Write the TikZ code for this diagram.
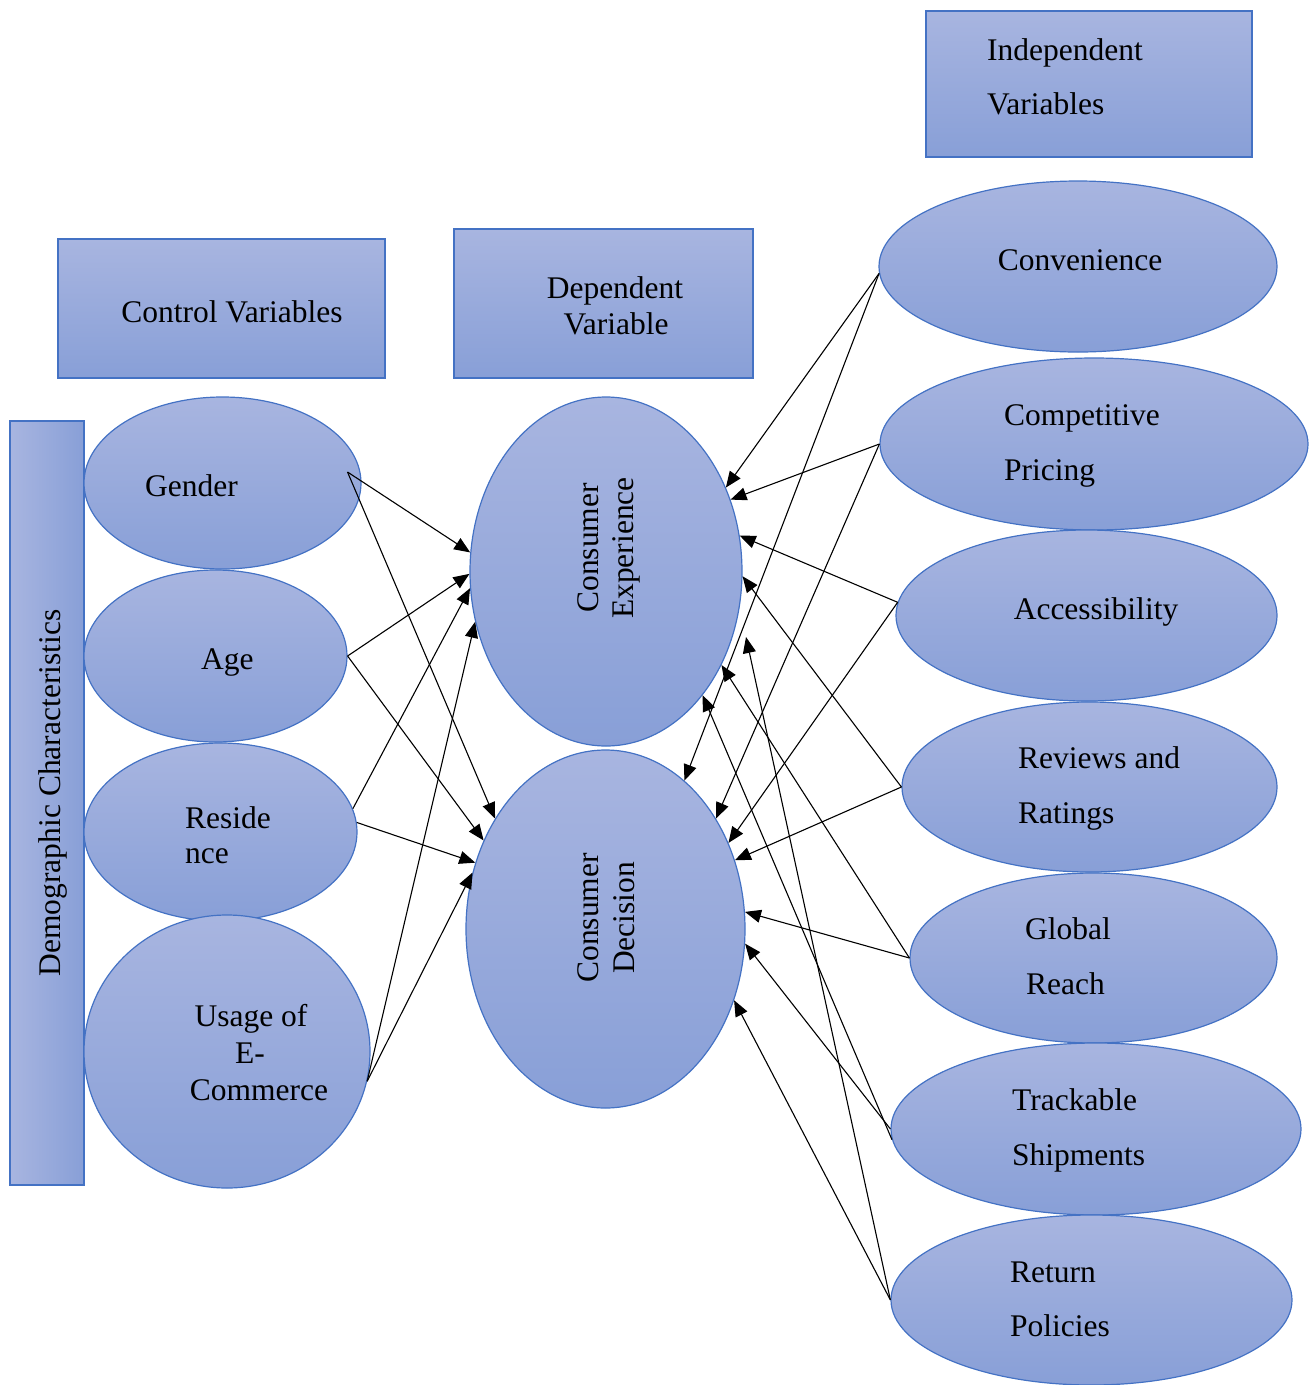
\documentclass[tikz,border=0pt]{standalone}
\usepackage{fontspec}
\setmainfont{Liberation Serif}
\usetikzlibrary{shapes.geometric,arrows.meta,calc}
\definecolor{gtop}{HTML}{A8B5E0}
\definecolor{gbot}{HTML}{889FD7}
\definecolor{bord}{HTML}{4472C4}
\begin{document}
\begin{tikzpicture}[x=1pt,y=-1pt,
 shp/.style={draw=bord,line width=1.2pt,inner sep=0pt},
 vgrad/.style={top color=gtop,bottom color=gbot},
 ell/.style={shp,vgrad,ellipse},
 box/.style={shp,vgrad,rectangle},
 lbl/.style={font=\fontsize{31.5}{36}\selectfont,inner sep=0pt},
 con/.style={line width=1.1pt,-{Triangle[length=16pt,width=13pt]}}]
\useasboundingbox (0,0) rectangle (1316,1385);

% boxes
\node[box,minimum width=326pt,minimum height=146pt] (indep) at (1089,84) {};
\node[box,minimum width=327pt,minimum height=139pt] (control) at (221.5,308.5) {};
\node[box,minimum width=299pt,minimum height=149pt] (dep) at (603.5,303.5) {};
\node[shp,rectangle,left color=gtop,right color=gbot,minimum width=74pt,minimum height=764pt] (demo) at (47,803) {};

% left ellipses
\node[ell,minimum width=277pt,minimum height=172pt] (gender) at (222.5,483) {};
\node[ell,minimum width=263pt,minimum height=172pt] (age) at (215.5,656) {};
\node[ell,minimum width=273pt,minimum height=178pt] (residence) at (220.5,832) {};
\node[ell,minimum width=286pt,minimum height=273pt] (usage) at (227,1051.5) {};

% centre ellipses
\node[ell,minimum width=272pt,minimum height=349pt] (ce) at (606,571.5) {};
\node[ell,minimum width=279pt,minimum height=358pt] (cd) at (605.5,929) {};

% right ellipses
\node[ell,minimum width=398pt,minimum height=171pt] (conv) at (1078,266.5) {};
\node[ell,minimum width=428pt,minimum height=172pt] (comp) at (1094,444) {};
\node[ell,minimum width=381pt,minimum height=171pt] (access) at (1086.5,615.5) {};
\node[ell,minimum width=375pt,minimum height=170pt] (reviews) at (1089.5,787) {};
\node[ell,minimum width=367pt,minimum height=170pt] (global) at (1093.5,958) {};
\node[ell,minimum width=410pt,minimum height=172pt] (track) at (1096,1129) {};
\node[ell,minimum width=401pt,minimum height=170pt] (return) at (1091.5,1300) {};

% texts
\node[lbl,anchor=base west] (t-indep1) at (987,60) {Independent};
\node[lbl,anchor=base west] (t-indep2) at (987,114) {Variables};
\node[lbl,anchor=base] (t-control) at (232,322) {Control Variables};
\node[lbl,anchor=base] (t-dep1) at (615,298) {Dependent};
\node[lbl,anchor=base] (t-dep2) at (616,334) {Variable};
\node[lbl,anchor=base,rotate=90] (t-demo) at (60,793) {Demographic Characteristics};

\node[lbl,anchor=base west] (t-gender) at (145,496) {Gender};
\node[lbl,anchor=base west] (t-age) at (201,669) {Age};
\node[lbl,anchor=base west] (t-res1) at (185,828) {Reside};
\node[lbl,anchor=base west] (t-res2) at (185,863) {nce};
\node[lbl,anchor=base] (t-use1) at (251,1026) {Usage of};
\node[lbl,anchor=base] (t-use2) at (250,1063) {E-};
\node[lbl,anchor=base] (t-use3) at (259,1100) {Commerce};

\node[lbl,anchor=base,rotate=90] (t-ce1) at (598,548) {Consumer};
\node[lbl,anchor=base,rotate=90] (t-ce2) at (633,548) {Experience};
\node[lbl,anchor=base,rotate=90] (t-cd1) at (598,918) {Consumer};
\node[lbl,anchor=base,rotate=90] (t-cd2) at (634,918) {Decision};

\node[lbl,anchor=base] (t-conv) at (1080,270) {Convenience};
\node[lbl,anchor=base west] (t-comp1) at (1004,425) {Competitive};
\node[lbl,anchor=base west] (t-comp2) at (1004,480) {Pricing};
\node[lbl,anchor=base] (t-access) at (1096,619) {Accessibility};
\node[lbl,anchor=base west] (t-rev1) at (1018,768) {Reviews and};
\node[lbl,anchor=base west] (t-rev2) at (1018,823) {Ratings};
\node[lbl,anchor=base west] (t-glob1) at (1025,939) {Global};
\node[lbl,anchor=base west] (t-glob2) at (1026,994) {Reach};
\node[lbl,anchor=base west] (t-track1) at (1012,1110) {Trackable};
\node[lbl,anchor=base west] (t-track2) at (1012,1165) {Shipments};
\node[lbl,anchor=base west] (t-ret1) at (1010,1282) {Return};
\node[lbl,anchor=base west] (t-ret2) at (1010,1336) {Policies};

% connectors from the left
\draw[con] ($(gender.center)+(125,-11)$) -- (ce.172);
\draw[con] ($(gender.center)+(125,-11)$) -- (cd.135);
\draw[con] (age.0) -- (ce.181);
\draw[con] (age.0) -- (cd.144);
\draw[con] (residence.10) -- (ce.187);
\draw[con] (residence.4) -- (cd.153);
\draw[con] (usage.-12) -- (ce.201);
\draw[con] (usage.-12) -- (cd.157);

% connectors from the right
\draw[con] (conv.182) -- (ce.35);
\draw[con] (conv.182) -- (cd.62);
\draw[con] (comp.180) -- (ce.30);
\draw[con] (comp.180) -- (cd.45);
\draw[con] (access.176) -- (ce.15);
\draw[con] (access.176) -- (cd.35);
\draw[con] (reviews.180) -- (ce.-2);
\draw[con] (reviews.180) -- (cd.28);
\draw[con] (global.180) -- (ce.-39);
\draw[con] (global.180) -- (cd.7);
\draw[con] (track.183) -- (ce.-52);
\draw[con] (track.180) -- (cd.-6);
\draw[con] (return.180) -- ($(ce.center)+(140,65.5)$);
\draw[con] (return.180) -- (cd.-29);
\end{tikzpicture}
\end{document}
